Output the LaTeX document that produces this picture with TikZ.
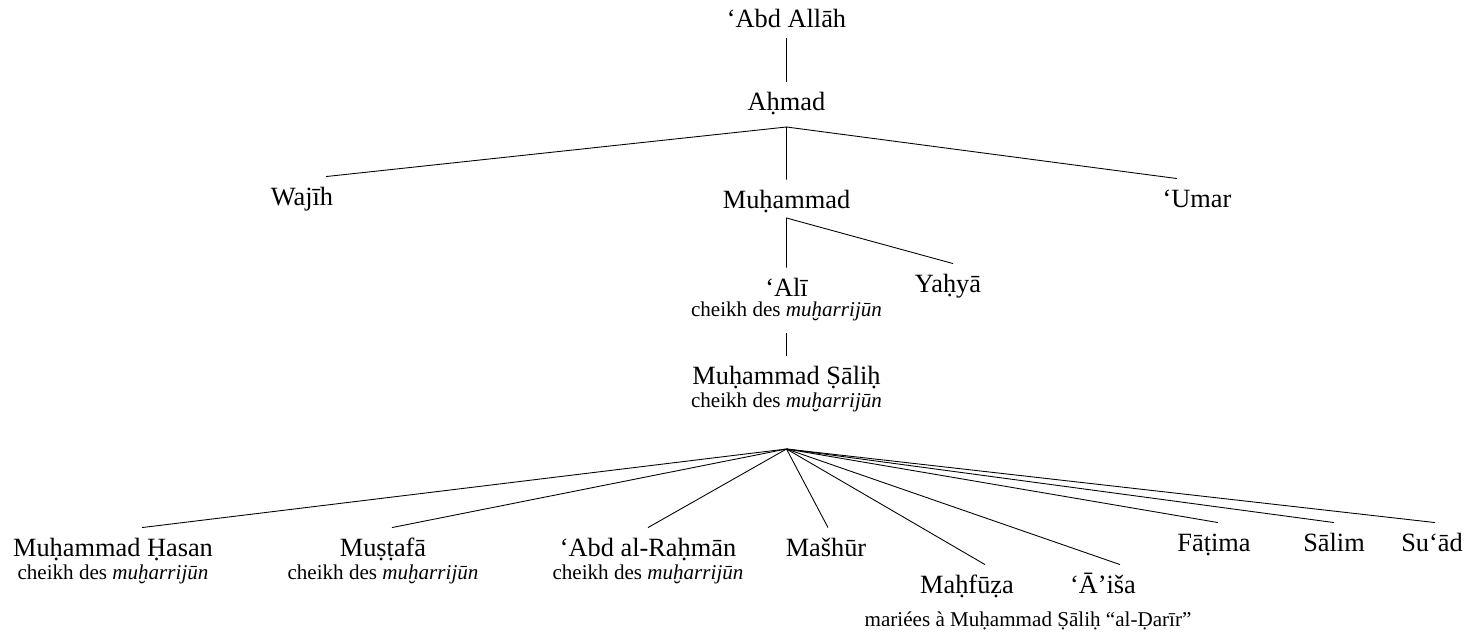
\documentclass[tikz,border=0pt]{standalone}
\usepackage{fontspec}
\setmainfont{Liberation Serif}
\begin{document}
\begin{tikzpicture}[x=0.02cm,y=-0.02cm,line width=0.5pt,
	person/.style={font=\fontsize{15}{18}\selectfont,anchor=base,inner sep=0pt,text height=0.58cm,text depth=0.2cm},
	office/.style={font=\fontsize{12}{14}\selectfont,anchor=base,inner sep=0pt,text depth=0.32cm}]
     		\useasboundingbox (0,0) rectangle (1471,634);
     		\node[person] (abdallah) at (786.5,28) {‘Abd Allāh};
     		\node[person] (ahmad) at (786.5,111) {Aḥmad};
     		\node[person] (wajih) at (302,206) {Wajīh};
     		\node[person] (muhammad) at (786.5,209) {Muḥammad};
     		\node[person] (umar) at (1197,208) {‘Umar};
     		\node[person] (ali) at (786.5,297) {‘Alī};\node[office] (alioffice) at (786.5,317) {cheikh des \textit{muḫarrijūn}};
     		\node[person] (yahya) at (948,293) {Yaḥyā};
     		\node[person] (salih) at (786.5,385) {Muḥammad Ṣāliḥ};\node[office] (salihoffice) at (786.5,408) {cheikh des \textit{muḫarrijūn}};
     		\node[person] (hasan) at (113,557) {Muḥammad Ḥasan};\node[office] (hasanoffice) at (113,580) {cheikh des \textit{muḫarrijūn}};
     		\node[person] (mustafa) at (383,557) {Muṣṭafā};\node[office] (mustafaoffice) at (383,580) {cheikh des \textit{muḫarrijūn}};
     		\node[person] (rahman) at (648,557) {‘Abd al-Raḥmān};\node[office] (rahmanoffice) at (648,580) {cheikh des \textit{muḫarrijūn}};
     		\node[person] (mashur) at (826,557) {Mašhūr};
     		\node[person] (mahfuza) at (967,594) {Maḥfūẓa};
     		\node[person] (aisha) at (1103,594) {‘Ā’iša};
     		\node[office] (married) at (1028,626) {mariées à Muḥammad Ṣāliḥ “al-Ḍarīr”};
     		\node[person] (fatima) at (1214,552) {Fāṭima};
     		\node[person] (salim) at (1334,552) {Sālim};
     		\node[person] (suad) at (1432,552) {Su‘ād};
     		\coordinate (ahmadfork) at (786.5,127);
     		\coordinate (muhammadfork) at (786.5,218);
     		\coordinate (salihfork) at (786.5,449);
     		\draw (abdallah.south) -- (ahmad.north);
     		\draw ([xshift=0.48cm]wajih.north) -- (ahmadfork) -- (muhammad.north);
     		\draw (ahmadfork) -- ([xshift=-0.4cm]umar.north);
     		\draw (ali.north) -- (muhammadfork) -- ([xshift=0.1cm]yahya.north);
     		\draw (alioffice.south) -- (salih.north);
     		\draw (salihfork) -- ([xshift=0.58cm]hasan.north);
     		\draw (salihfork) -- ([xshift=0.18cm]mustafa.north);
     		\draw (salihfork) -- (rahman.north);
     		\draw (salihfork) -- ([xshift=0.04cm]mashur.north);
     		\draw (salihfork) -- ([xshift=0.36cm]mahfuza.north);
     		\draw (salihfork) -- ([xshift=0.34cm]aisha.north);
     		\draw (salihfork) -- ([xshift=0.08cm]fatima.north);
     		\draw (salihfork) -- (salim.north);
     		\draw (salihfork) -- ([xshift=0.06cm]suad.north);
		\end{tikzpicture}
\end{document}
